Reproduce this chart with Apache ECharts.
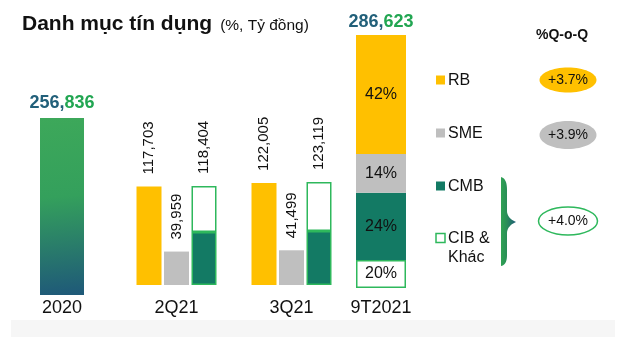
<!DOCTYPE html>
<html>
<head>
<meta charset="utf-8">
<script src="https://cdn.jsdelivr.net/npm/echarts@6/dist/echarts.min.js"></script>
<style>
html,body{margin:0;padding:0;background:#fff;}
#chart{width:640px;height:337px;}
</style>
</head>
<body>
<div id="chart"></div>
<script>
// ---- data ----
const titleMain = 'Danh mục tín dụng';
const titleUnit = '(%, Tỷ đồng)';
const yearCats = ['2020'];
const yearTotal = [256836];

const qCats = ['2Q21', '3Q21'];
const rbQ = [117703, 122005];
const smeQ = [39959, 41499];
const cmbQ = [63300, 64500];
const cibQ = [55104, 58619];
const cmbCibTotal = [118404, 123119];

const ytdCats = ['9T2021'];
const ytdTotal = [286623];
// drawn segment heights (share of bar, as pictured), bottom to top: CIB, CMB, SME, RB
const ytdCib = [11.1];
const ytdCmb = [26.5];
const ytdSme = [15.4];
const ytdRb = [47.0];
const ytdShareLabels = { RB: '42%', SME: '14%', CMB: '24%', CIB: '20%' };

const segNames = ['RB', 'SME', 'CMB', 'CIB &\nKhác'];
const qoqTitle = '%Q-o-Q';
const qoqLabels = ['+3.7%', '+3.9%', '+4.0%'];

// ---- styles ----
const FONT = '"Liberation Sans", Arial, sans-serif';
const C_RB = '#FFC000', C_SME = '#BFBFBF', C_CMB = '#137A64', C_CIB = '#2EB85C';
const C_DARK = '#22607A', C_GREEN = '#22A652';
const fmt = v => v.toLocaleString('en-US');
const splitRich = s => '{d|' + s.slice(0, 4) + '}{g|' + s.slice(4) + '}';
const totalRich = {
  d: { color: C_DARK, fontSize: 18, fontWeight: 'bold', fontFamily: FONT },
  g: { color: C_GREEN, fontSize: 18, fontWeight: 'bold', fontFamily: FONT }
};
const lin = (x, y, x2, y2, stops) => ({
  type: 'linear', x: x, y: y, x2: x2, y2: y2, global: false,
  colorStops: stops.map(s => ({ offset: s[0], color: s[1] }))
});
const rotLabel = (fmtFn) => ({
  show: true, position: 'top', rotate: 90, align: 'left', verticalAlign: 'middle',
  distance: 12, fontSize: 15, color: '#111', fontFamily: FONT, formatter: fmtFn
});

const chart = echarts.init(document.getElementById('chart'), null, { renderer: 'canvas' });

const xAxisBase = (cats, margin) => ({
  type: 'category', data: cats,
  axisLine: { show: false }, axisTick: { show: false },
  axisLabel: { fontSize: 18, color: '#111', fontFamily: FONT, margin: margin }
});
const yAxisBase = (max) => ({ type: 'value', min: 0, max: max, show: false });

// brace outline sampled from cubic segments (decoration)
function bracePoints() {
  const segs = [
    [[501,177],[505,178],[507,182],[507,190]],
    [[507,190],[507,200],[507,205],[507,211]],
    [[507,211],[507,216],[511,220],[516,222]],
    [[516,222],[511,224],[507,228],[507,233]],
    [[507,233],[507,240],[507,248],[507,255]],
    [[507,255],[507,262],[505,265],[501,266]]
  ];
  const pts = [];
  segs.forEach(s => {
    for (let i = 0; i <= 10; i++) {
      const t = i / 10, u = 1 - t;
      const x = u*u*u*s[0][0] + 3*u*u*t*s[1][0] + 3*u*t*t*s[2][0] + t*t*t*s[3][0];
      const y = u*u*u*s[0][1] + 3*u*u*t*s[1][1] + 3*u*t*t*s[2][1] + t*t*t*s[3][1];
      pts.push([x, y]);
    }
  });
  return pts;
}

const legendY = [80, 133, 186, 238];
const legendColors = [C_RB, C_SME, C_CMB, '#fff'];
const graphics = [];
graphics.push({ type: 'rect', shape: { x: 11, y: 320, width: 604, height: 17 }, style: { fill: '#F6F6F6' }, z: -1 });
segNames.forEach((n, i) => {
  graphics.push({
    type: 'rect', shape: { x: 436, y: legendY[i] - 4.5, width: 9, height: 9 },
    style: i === 3 ? { fill: '#fff', stroke: C_CIB, lineWidth: 1.5 } : { fill: legendColors[i] }
  });
  graphics.push({
    type: 'text', x: 448, y: legendY[i] - 9,
    style: { text: n, fontSize: 16, fontFamily: FONT, fill: '#111', lineHeight: 19, verticalAlign: 'top' }
  });
});
graphics.push({
  type: 'text', x: 562, y: 35,
  style: { text: qoqTitle, fontSize: 14, fontWeight: 'bold', fontFamily: FONT, fill: '#111', align: 'center', verticalAlign: 'middle' }
});
const ellY = [80, 135, 221];
const ellStyle = [
  { fill: C_RB }, { fill: C_SME }, { fill: '#fff', stroke: C_CIB, lineWidth: 1.5 }
];
const ellR = [[28.5, 12.5], [28.5, 14], [29.5, 14]];
qoqLabels.forEach((t, i) => {
  graphics.push({
    type: 'ellipse', shape: { cx: 568, cy: ellY[i], rx: ellR[i][0], ry: ellR[i][1] }, style: ellStyle[i]
  });
  graphics.push({
    type: 'text', x: 568, y: ellY[i],
    style: { text: t, fontSize: 14, fontFamily: FONT, fill: '#111', align: 'center', verticalAlign: 'middle' }
  });
});
graphics.push({
  type: 'polygon',
  shape: { points: bracePoints() },
  style: { fill: lin(0, 0, 1, 0, [[0, '#2FA253'], [0.35, '#2A9057'], [1, '#1F5C78']]) }
});

const option = {
  animation: false,
  backgroundColor: '#fff',
  title: {
    left: 22, top: 14, padding: 0,
    text: '{a|' + titleMain + '}{b|' + titleUnit + '}',
    textStyle: {
      rich: {
        a: { fontSize: 21, fontWeight: 'bold', color: '#111', fontFamily: FONT, padding: [0, 8, 0, 0] },
        b: { fontSize: 15.5, fontWeight: 'normal', color: '#111', fontFamily: FONT, padding: [3, 0, 0, 0] }
      }
    }
  },
  grid: [
    { left: 22, width: 80, top: 118, height: 177 },
    { left: 119, width: 230, top: 159.5, height: 125.5 },
    { left: 341, width: 80, top: 35, height: 253 }
  ],
  xAxis: [xAxisBase(yearCats, 4), Object.assign(xAxisBase(qCats, 14), { gridIndex: 1 }), Object.assign(xAxisBase(ytdCats, 11), { gridIndex: 2 })],
  yAxis: [yAxisBase(256836), Object.assign(yAxisBase(150000), { gridIndex: 1 }), Object.assign(yAxisBase(100), { gridIndex: 2 })],
  series: [
    {
      type: 'bar', name: '2020', xAxisIndex: 0, yAxisIndex: 0, data: yearTotal, barWidth: 44,
      itemStyle: { color: lin(0, 0, 0.35, 1, [[0, '#3DA85A'], [0.45, '#34A05C'], [1, '#1F5A78']]) },
      label: { show: true, position: 'top', distance: 6, formatter: p => splitRich(fmt(p.value)), rich: totalRich }
    },
    {
      type: 'bar', name: 'RB', xAxisIndex: 1, yAxisIndex: 1, data: rbQ, barWidth: 25, barGap: '10%',
      itemStyle: { color: C_RB }, label: rotLabel(p => fmt(p.value))
    },
    {
      type: 'bar', name: 'SME', xAxisIndex: 1, yAxisIndex: 1, data: smeQ, barWidth: 25, barGap: '10%',
      itemStyle: { color: C_SME }, label: rotLabel(p => fmt(p.value))
    },
    {
      type: 'bar', name: 'CMB', xAxisIndex: 1, yAxisIndex: 1, data: cmbQ, barWidth: 25, barGap: '10%', stack: 'q',
      itemStyle: { color: C_CMB, borderColor: C_CIB, borderWidth: 1.5 }
    },
    {
      type: 'bar', name: 'CIB', xAxisIndex: 1, yAxisIndex: 1, data: cibQ, barWidth: 25, barGap: '10%', stack: 'q',
      itemStyle: { color: '#fff', borderColor: C_CIB, borderWidth: 1.5 },
      label: rotLabel(p => fmt(cmbCibTotal[p.dataIndex]))
    },
    {
      type: 'bar', name: 'CIB9', xAxisIndex: 2, yAxisIndex: 2, data: ytdCib, barWidth: 50, stack: 'y',
      itemStyle: { color: '#fff', borderColor: C_CIB, borderWidth: 1.5 },
      label: { show: true, position: 'inside', fontSize: 16, color: '#111', fontFamily: FONT, formatter: () => ytdShareLabels.CIB }
    },
    {
      type: 'bar', name: 'CMB9', xAxisIndex: 2, yAxisIndex: 2, data: ytdCmb, barWidth: 50, stack: 'y',
      itemStyle: { color: C_CMB },
      label: { show: true, position: 'inside', fontSize: 16, color: '#111', fontFamily: FONT, formatter: () => ytdShareLabels.CMB }
    },
    {
      type: 'bar', name: 'SME9', xAxisIndex: 2, yAxisIndex: 2, data: ytdSme, barWidth: 50, stack: 'y',
      itemStyle: { color: C_SME },
      label: { show: true, position: 'inside', fontSize: 16, color: '#111', fontFamily: FONT, formatter: () => ytdShareLabels.SME }
    },
    {
      type: 'bar', name: 'RB9', xAxisIndex: 2, yAxisIndex: 2, data: ytdRb, barWidth: 50, stack: 'y',
      itemStyle: { color: C_RB },
      label: { show: true, position: 'inside', fontSize: 16, color: '#111', fontFamily: FONT, formatter: () => ytdShareLabels.RB }
    },
    {
      type: 'bar', name: 'Total9', xAxisIndex: 2, yAxisIndex: 2, data: [0], barWidth: 50, stack: 'y',
      itemStyle: { color: 'transparent' },
      label: { show: true, position: 'top', distance: 4, formatter: () => splitRich(fmt(ytdTotal[0])), rich: totalRich }
    }
  ],
  graphic: graphics
};
chart.setOption(option);
</script>
</body>
</html>
